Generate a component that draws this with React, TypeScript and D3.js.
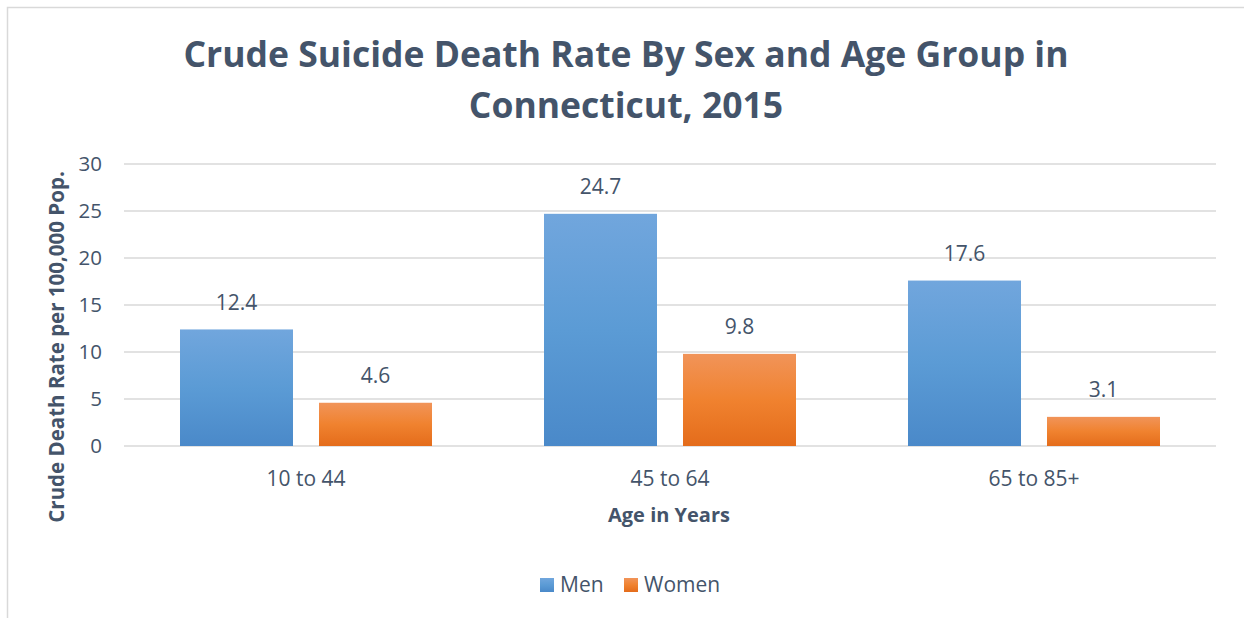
import React from "react";
import * as d3 from "d3";

const categories = ["10 to 44", "45 to 64", "65 to 85+"];
const seriesNames = ["Men", "Women"];
const menValues = [12.4, 24.7, 17.6];
const womenValues = [4.6, 9.8, 3.1];
const yTicks = [0, 5, 10, 15, 20, 25, 30];

const W = 1244;
const H = 618;
const FONT = "'Open Sans', sans-serif";
const TEXT = "#44546A";
const GRID = "#D9D9D9";

export default function App() {
  const left = 124, right = 1216, top = 164, bottom = 446;
  const y = d3.scaleLinear().domain([0, 30]).range([bottom, top]);
  const series = [menValues, womenValues];
  const fills = ["url(#gBlue)", "url(#gOrange)"];

  const step = (right - left) / categories.length;
  const groupW = 252;
  const xg = d3.scaleBand<string>().domain(categories).range([left, right]).padding(0);
  const xs = d3.scaleBand<string>().domain(seriesNames).range([0, groupW]).paddingInner(26 / 139).paddingOuter(0);

  const legendX = [540, 624];

  return (
    <svg width={W} height={H} style={{ position: "absolute", left: 0, top: 0 }} fontFamily={FONT}>
      <defs>
        <linearGradient id="gBlue" x1="0" y1="0" x2="0" y2="1">
          <stop offset="0" stopColor="#71A6DD" />
          <stop offset="0.5" stopColor="#5B9BD5" />
          <stop offset="1" stopColor="#4A89C9" />
        </linearGradient>
        <linearGradient id="gOrange" x1="0" y1="0" x2="0" y2="1">
          <stop offset="0" stopColor="#F19459" />
          <stop offset="0.5" stopColor="#F0822F" />
          <stop offset="1" stopColor="#E46C1B" />
        </linearGradient>
      </defs>
      <rect x={0} y={0} width={W} height={H} fill="#fff" />
      <path d={`M7.5,${H} L7.5,7.5 L${W},7.5`} fill="none" stroke={GRID} strokeWidth={1.5} />

      <text x={626} y={67} textAnchor="middle" fontSize={35.5} fontWeight={700} fill={TEXT}>
        Crude Suicide Death Rate By Sex and Age Group in
      </text>
      <text x={626} y={118} textAnchor="middle" fontSize={35.5} fontWeight={700} fill={TEXT}>
        Connecticut, 2015
      </text>

      {yTicks.map((t) => (
        <g key={t}>
          <line x1={left} x2={right} y1={y(t)} y2={y(t)} stroke={GRID} strokeWidth={1.5} />
          <text x={102} y={y(t)} dy="0.36em" textAnchor="end" fontSize={20.5} fill={TEXT}>
            {t}
          </text>
        </g>
      ))}

      {categories.map((c, i) => {
        const gx = (xg(c) as number) + (step - groupW) / 2;
        return (
          <g key={c}>
            {seriesNames.map((s, j) => {
              const v = series[j][i];
              const bx = gx + (xs(s) as number);
              const bw = xs.bandwidth();
              return (
                <g key={s}>
                  <rect x={bx} y={y(v)} width={bw} height={y(0) - y(v)} fill={fills[j]} />
                  <text x={bx + bw / 2} y={y(v) - 27} dy="0.36em" textAnchor="middle" fontSize={21} fill={TEXT}>
                    {v.toFixed(1)}
                  </text>
                </g>
              );
            })}
            <text x={(xg(c) as number) + step / 2} y={478} dy="0.36em" textAnchor="middle" fontSize={21} fill={TEXT}>
              {c}
            </text>
          </g>
        );
      })}

      <text x={669} y={515} dy="0.36em" textAnchor="middle" fontSize={20} fontWeight={700} fill={TEXT}>
        Age in Years
      </text>
      <text transform={`translate(57,347) rotate(-90)`} dy="0.36em" textAnchor="middle" fontSize={20.5} fontWeight={700} fill={TEXT}>
        Crude Death Rate per 100,000 Pop.
      </text>

      {seriesNames.map((s, j) => {
        const lx = legendX[j];
        return (
          <g key={s}>
            <rect x={lx} y={578} width={14} height={14} fill={fills[j]} />
            <text x={lx + 20} y={592} fontSize={21} fill={TEXT}>
              {s}
            </text>
          </g>
        );
      })}
    </svg>
  );
}
